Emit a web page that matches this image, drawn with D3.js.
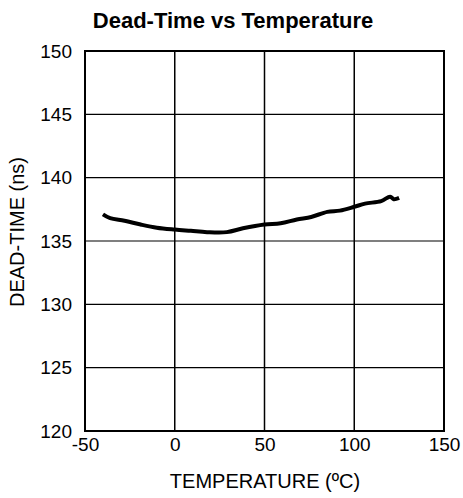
<!DOCTYPE html>
<html>
<head>
<meta charset="utf-8">
<script src="https://cdn.jsdelivr.net/npm/d3@7"></script>
<style>
body{margin:0;background:#fff;}
text{font-family:"Liberation Sans",Arial,sans-serif;fill:#000;}
</style>
</head>
<body>
<div id="chart"></div>
<script>
const width = 463;
const height = 498;
const margin = {top:51,right:19,bottom:67,left:85};

// data
const tempC = [-40,-36,-28,-19,-10,0,9,18,29,38,50,59,68,76,85,92,100,106,115,120,122,125];
const deadTime = [137.1,136.8,136.6,136.3,136.05,135.9,135.8,135.7,135.7,136.0,136.3,136.4,136.7,136.9,137.3,137.4,137.7,137.95,138.15,138.5,138.3,138.4];
const xTicks = [-50,0,50,100,150];
const yTicks = [120,125,130,135,140,145,150];

const data = tempC.map((t,i)=>({t:t,v:deadTime[i]}));

const svg = d3.select("#chart")
.append("svg")
.attr("width",width)
.attr("height",height);

const x = d3.scaleLinear()
.domain([-50,150])
.range([margin.left,width-margin.right]);

const y = d3.scaleLinear()
.domain([120,150])
.range([height-margin.bottom,margin.top]);

// GRID
svg.append("g")
.selectAll("line")
.data(xTicks)
.enter()
.append("line")
.attr("x1",d=>x(d))
.attr("x2",d=>x(d))
.attr("y1",y(120))
.attr("y2",y(150))
.attr("stroke","#000")
.attr("stroke-width",1.5);

svg.append("g")
.selectAll("line")
.data(yTicks)
.enter()
.append("line")
.attr("x1",x(-50))
.attr("x2",x(150))
.attr("y1",d=>y(d))
.attr("y2",d=>y(d))
.attr("stroke","#000")
.attr("stroke-width",1.2);

// FRAME
svg.append("rect")
.attr("x",x(-50))
.attr("y",y(150))
.attr("width",x(150)-x(-50))
.attr("height",y(120)-y(150))
.attr("fill","none")
.attr("stroke","#000")
.attr("stroke-width",2);

// LINE
const line = d3.line()
.x(d=>x(d.t))
.y(d=>y(d.v))
.curve(d3.curveCatmullRom);

svg.append("path")
.datum(data)
.attr("fill","none")
.attr("stroke","#000")
.attr("stroke-width",4)
.attr("stroke-linejoin","round")
.attr("d",line);

// AXES
const xAxis = svg.append("g")
.attr("transform",`translate(0,${height-margin.bottom})`)
.call(d3.axisBottom(x).tickValues(xTicks).tickFormat(d=>String(d)).tickSize(0).tickPadding(4));
xAxis.select(".domain").remove();
xAxis.selectAll("text")
.style("font-size","19px")
.attr("dy","0.85em");

const yAxis = svg.append("g")
.attr("transform",`translate(${margin.left},0)`)
.call(d3.axisLeft(y).tickValues(yTicks).tickFormat(d=>String(d)).tickSize(0).tickPadding(13));
yAxis.select(".domain").remove();
yAxis.selectAll("text")
.style("font-size","19px");

// TITLE
svg.append("text")
.attr("x",233)
.attr("y",28)
.attr("text-anchor","middle")
.style("font-size","22px")
.style("font-weight","bold")
.text("Dead-Time vs Temperature");

// X LABEL
svg.append("text")
.attr("x",265)
.attr("y",488)
.attr("text-anchor","middle")
.style("font-size","20px")
.text("TEMPERATURE (ºC)");

// Y LABEL
svg.append("text")
.attr("x",-232)
.attr("y",24)
.attr("transform","rotate(-90)")
.attr("text-anchor","middle")
.style("font-size","20px")
.text("DEAD-TIME (ns)");
</script>
</body>
</html>
